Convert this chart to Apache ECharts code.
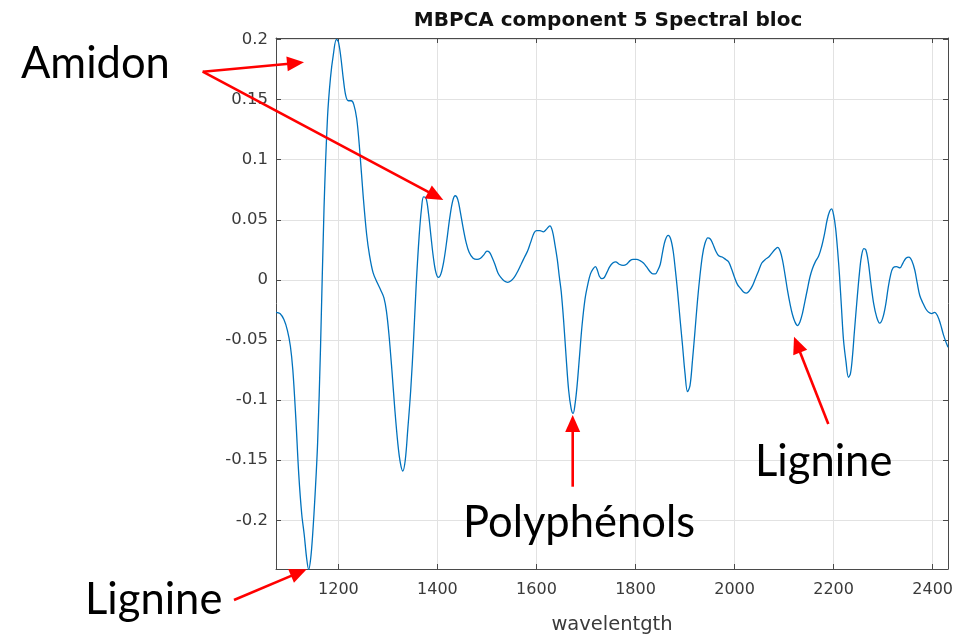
<!DOCTYPE html>
<html>
<head>
<meta charset="utf-8">
<script src="https://cdn.jsdelivr.net/npm/echarts@6/dist/echarts.min.js"></script>
<style>
html,body{margin:0;padding:0;background:#fff;}
#chart{width:973px;height:642px;}
</style>
</head>
<body>
<div id="chart"></div>
<script>
// ---- data ----
const wavelength = [
1074,1082,1090,1097,1103,1108,1114,1120,1126,1131,1136,1140,1144,1148,1153,1158,1164,1171,1178,1184,1190,1196,1200,1205,1210,1215,1220,1226,1231,1237,1243,1250,1257,1263,1270,1278,1286,1292,1297,1302,1308,1314,1320,1325,1330,1335,1340,1346,1352,1357,1363,1368,1372,1377,1382,1387,1392,1397,1402,1407,1413,1419,1425,1431,1436,1441,1446,1452,1458,1464,1472,1480,1487,1494,1500,1505,1510,1516,1522,1528,1535,1542,
1548,1555,1562,1569,1576,1582,1588,1595,1600,1607,1614,1620,1627,1632,1637,1642,1646,1650,1655,1660,1665,1670,1674,1678,1682,1687,1692,1698,1704,1709,1714,1719,1723,1727,1732,1737,1742,1748,1754,1760,1767,1775,1782,1789,1795,1802,1809,1816,1822,1829,1835,1840,1845,1850,1855,1860,1866,1871,1876,1880,1885,1890,1895,1900,1905,1910,1915,1920,1925,1930,1935,1940,1946,1951,1956,1962,1968,1975,1982,1988,1994,2000,2006,
2012,2018,2024,2030,2036,2042,2048,2055,2062,2069,2075,2081,2087,2092,2097,2102,2107,2112,2117,2122,2127,2132,2137,2142,2147,2152,2157,2163,2170,2176,2182,2187,2192,2196,2200,2204,2208,2212,2216,2220,2225,2230,2234,2238,2242,2247,2252,2256,2261,2265,2270,2275,2281,2287,2293,2299,2305,2310,2315,2320,2327,2334,2340,2346,2352,2358,2364,2369,2374,2380,2386,2392,2398,2404,2410,2416,2422,2428,2431
];
const loading = [
-0.027,-0.028,-0.033,-0.042,-0.055,-0.075,-0.115,-0.162,-0.195,-0.212,-0.232,-0.241,-0.232,-0.212,-0.178,-0.136,-0.055,0.060,0.135,0.168,0.188,0.200,0.198,0.185,0.167,0.153,0.149,0.149,0.146,0.134,0.108,0.070,0.038,0.020,0.006,-0.002,-0.009,-0.015,-0.026,-0.045,-0.075,-0.108,-0.136,-0.152,-0.159,-0.150,-0.125,-0.092,-0.048,-0.005,0.036,0.060,0.069,0.068,0.055,0.036,0.018,0.006,0.002,0.005,0.016,0.033,0.052,0.066,0.070,0.067,0.057,0.043,0.031,0.023,0.018,0.017,0.018,0.021,0.024,0.023,0.019,0.013,0.006,0.002,-0.001,-0.002,
-0.001,0.002,0.007,0.013,0.019,0.024,0.031,0.039,0.041,0.041,0.040,0.042,0.045,0.041,0.030,0.017,0.003,-0.010,-0.035,-0.065,-0.092,-0.107,-0.111,-0.103,-0.088,-0.063,-0.038,-0.016,-0.003,0.005,0.009,0.011,0.008,0.003,0.001,0.002,0.006,0.011,0.014,0.015,0.013,0.012,0.013,0.016,0.017,0.017,0.016,0.014,0.011,0.007,0.005,0.005,0.008,0.013,0.024,0.033,0.037,0.034,0.024,0.010,-0.010,-0.033,-0.055,-0.078,-0.093,-0.088,-0.067,-0.043,-0.018,0.003,0.020,0.030,0.035,0.034,0.030,0.024,0.020,0.019,0.017,0.015,0.009,0.002,-0.004,
-0.007,-0.010,-0.011,-0.009,-0.005,0.001,0.007,0.014,0.017,0.019,0.022,0.025,0.027,0.024,0.016,0.004,-0.009,-0.020,-0.029,-0.035,-0.038,-0.035,-0.028,-0.018,-0.008,0.002,0.009,0.015,0.020,0.028,0.039,0.050,0.057,0.059,0.054,0.043,0.025,0.003,-0.024,-0.050,-0.068,-0.081,-0.078,-0.064,-0.043,-0.018,0.005,0.019,0.026,0.025,0.015,-0.002,-0.020,-0.031,-0.036,-0.032,-0.021,-0.007,0.004,0.010,0.011,0.010,0.014,0.018,0.019,0.016,0.008,-0.003,-0.013,-0.019,-0.024,-0.027,-0.028,-0.027,-0.030,-0.037,-0.046,-0.053,-0.056
];
const xTicks = [1200,1400,1600,1800,2000,2200,2400];
const yTicks = [-0.2,-0.15,-0.1,-0.05,0,0.05,0.1,0.15,0.2];
const xRange = [1074, 2431];
const yRange = [-0.2405, 0.2012];
const titleText = 'MBPCA component 5 Spectral bloc';
const xName = 'wavelentgth';

// annotations (slide overlay, pixel space)
const annotTexts = [
  {text:'Amidon', x:21, y:64},
  {text:'Lignine', x:85, y:600},
  {text:'Polyphénols', x:463, y:523},
  {text:'Lignine', x:755, y:462}
];
const annotArrows = [
  [202.7,71.7,304,62.3],
  [202.7,71.7,443.3,200],
  [234,600,306.7,569.3],
  [572.7,486.7,572.7,415],
  [828.3,424,794,336.7]
];

// ---- chart ----
const chart = echarts.init(document.getElementById('chart'));
const seriesData = wavelength.map((w,i)=>[w, loading[i]]);
const frameColor = '#4a4a4a';
const labelColor = '#3a3a3a';
const gridColor = '#e2e2e2';
const mFont = 'DejaVu Sans';

const graphics = [];
annotArrows.forEach(a=>{
  const [x1,y1,x2,y2] = a;
  const dx = x2-x1, dy = y2-y1, L = Math.hypot(dx,dy);
  const ux = dx/L, uy = dy/L;
  const hl = 17, hw = 7.5;
  const bx = x2-ux*hl, by = y2-uy*hl;
  graphics.push({type:'line', z:100, shape:{x1:x1,y1:y1,x2:bx+ux*2,y2:by+uy*2}, style:{stroke:'#ff0000', lineWidth:2.6}});
  graphics.push({type:'polygon', z:100, shape:{points:[[x2,y2],[bx-uy*hw,by+ux*hw],[bx+uy*hw,by-ux*hw]]}, style:{fill:'#ff0000'}});
});
annotTexts.forEach(t=>{
  graphics.push({type:'text', z:100, style:{text:t.text, x:t.x, y:t.y, fill:'#000', font:'400 43.5px Lato', textVerticalAlign:'middle', verticalAlign:'middle', align:'left'}});
});

const plainNum = v => String(v);
const axisCommon = {
  type:'value', min:xRange[0], max:xRange[1],
  axisLine:{show:true, onZero:false, lineStyle:{color:frameColor, width:1}},
  axisTick:{show:true, inside:true, length:5, customValues:xTicks, lineStyle:{color:frameColor}},
};
chart.setOption({
  animation:false,
  backgroundColor:'#fff',
  title:{text:titleText, left:603, textAlign:'center', top:6,
    textStyle:{fontFamily:mFont, fontWeight:'bold', fontSize:20, color:'#111'}},
  grid:{left:276, top:38, width:672, height:531},
  xAxis:[
    Object.assign({}, axisCommon, {
      position:'bottom',
      axisLabel:{show:true, customValues:xTicks, formatter:plainNum, fontFamily:mFont, fontSize:16, color:labelColor, margin:13},
      splitLine:{show:true, lineStyle:{color:gridColor, width:1}},
      name:xName, nameLocation:'middle', nameGap:46,
      nameTextStyle:{fontFamily:mFont, fontSize:19.5, color:labelColor}
    }),
    Object.assign({}, axisCommon, {
      position:'top',
      axisLabel:{show:false},
      splitLine:{show:false}
    })
  ],
  yAxis:[
    {type:'value', min:yRange[0], max:yRange[1], position:'left',
      axisLine:{show:true, onZero:false, lineStyle:{color:frameColor, width:1}},
      axisTick:{show:true, inside:true, length:5, customValues:yTicks, lineStyle:{color:frameColor}},
      axisLabel:{show:true, customValues:yTicks, formatter:plainNum, fontFamily:mFont, fontSize:16.5, color:labelColor, margin:8},
      splitLine:{show:true, lineStyle:{color:gridColor, width:1}}
    },
    {type:'value', min:yRange[0], max:yRange[1], position:'right',
      axisLine:{show:true, onZero:false, lineStyle:{color:frameColor, width:1}},
      axisTick:{show:true, inside:true, length:5, customValues:yTicks, lineStyle:{color:frameColor}},
      axisLabel:{show:false},
      splitLine:{show:false}
    }
  ],
  series:[{
    type:'line', xAxisIndex:0, yAxisIndex:0,
    data:seriesData, showSymbol:false, symbol:'none', smooth:0.35,
    lineStyle:{color:'#0072BD', width:1.3},
    clip:true
  }],
  graphic:graphics
});
</script>
</body>
</html>
